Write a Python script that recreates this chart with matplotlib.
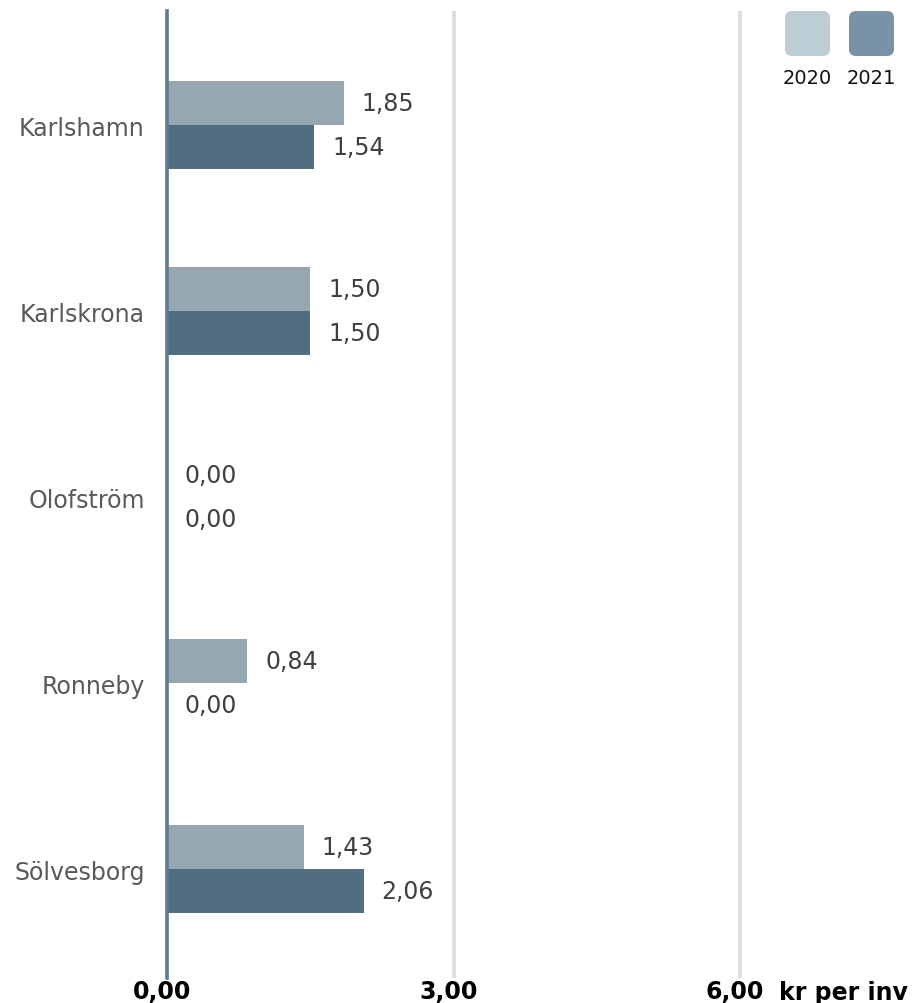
import numpy as np
import matplotlib
matplotlib.use("Agg")
import matplotlib.pyplot as plt
import matplotlib.transforms as mtransforms
from matplotlib.patches import FancyBboxPatch

# data
kommuner = ["Karlshamn", "Karlskrona", "Olofström", "Ronneby", "Sölvesborg"]
v2020 = [1.85, 1.50, 0.00, 0.84, 1.43]
v2021 = [1.54, 1.50, 0.00, 0.00, 2.06]
years = ["2020", "2021"]
xticks = [0, 3, 6]
xticklabels = ["0,00", "3,00", "6,00"]
unit = "kr per inv"

c2020 = "#97a7b1"
c2021 = "#506e80"
leg_colors = ["#bccdd6", "#7893a5"]

W, H = 915, 1004
fig = plt.figure(figsize=(W / 100, H / 100), dpi=100)
ax = fig.add_axes([167 / W, 25 / H, (W - 167) / W, (979 - 12) / H])

y = np.arange(len(kommuner))
h = 0.236
ax.barh(y - h / 2, v2020, height=h, color=c2020, zorder=2)
ax.barh(y + h / 2, v2021, height=h, color=c2021, zorder=2)

# value labels, swedish decimal comma
for i in range(len(kommuner)):
    for val, off in ((v2020[i], -h / 2), (v2021[i], h / 2)):
        ax.annotate(f"{val:.2f}".replace(".", ","), (val, i + off),
                    xytext=(18, 0), textcoords="offset pixels",
                    ha="left", va="center", fontsize=17, color="#404040")

ax.set_xlim(0, (W - 167) / 95.5)
ax.set_ylim(len(kommuner) - 1 + 0.586, -0.613)

ax.set_yticks(y)
ax.set_yticklabels(kommuner, fontsize=17, color="#595959")
ax.tick_params(axis="y", length=0, pad=16)

ax.set_xticks(xticks)
ax.set_xticklabels(xticklabels, fontsize=17, fontweight="bold", color="black")
ax.tick_params(axis="x", length=0, pad=1)
shift = mtransforms.ScaledTranslation(-5 / 100, 0, fig.dpi_scale_trans)
for t in ax.get_xticklabels():
    t.set_transform(t.get_transform() + shift)
ax.xaxis.grid(True, color="#d6dee4", linewidth=2.6, zorder=0)
ax.set_axisbelow(True)
ax.annotate(unit, (6, 0), xycoords=ax.get_xaxis_transform(),
            xytext=(39, -2), textcoords="offset pixels",
            ha="left", va="top", fontsize=17, fontweight="bold",
            color="black")

for s in ["top", "right", "bottom"]:
    ax.spines[s].set_visible(False)
ax.spines["left"].set_color("#5e7d90")
ax.spines["left"].set_linewidth(2.6)
ax.spines["left"].set_zorder(3)

# legend with rounded swatches
lax = fig.add_axes([780 / W, 1 - 100 / H, 125 / W, 95 / H])
lax.set_xlim(780, 905)
lax.set_ylim(100, 5)
lax.axis("off")
for k, (lab, col) in enumerate(zip(years, leg_colors)):
    x0 = 785 + k * 64
    lax.add_patch(FancyBboxPatch((x0 + 5, 17), 35, 35,
                                 boxstyle="round,pad=5,rounding_size=7",
                                 facecolor=col, edgecolor="none"))
    lax.text(x0 + 22.5, 79, lab, ha="center", va="center",
             fontsize=14, color="#111111")

fig.savefig("out.png", dpi=100)
